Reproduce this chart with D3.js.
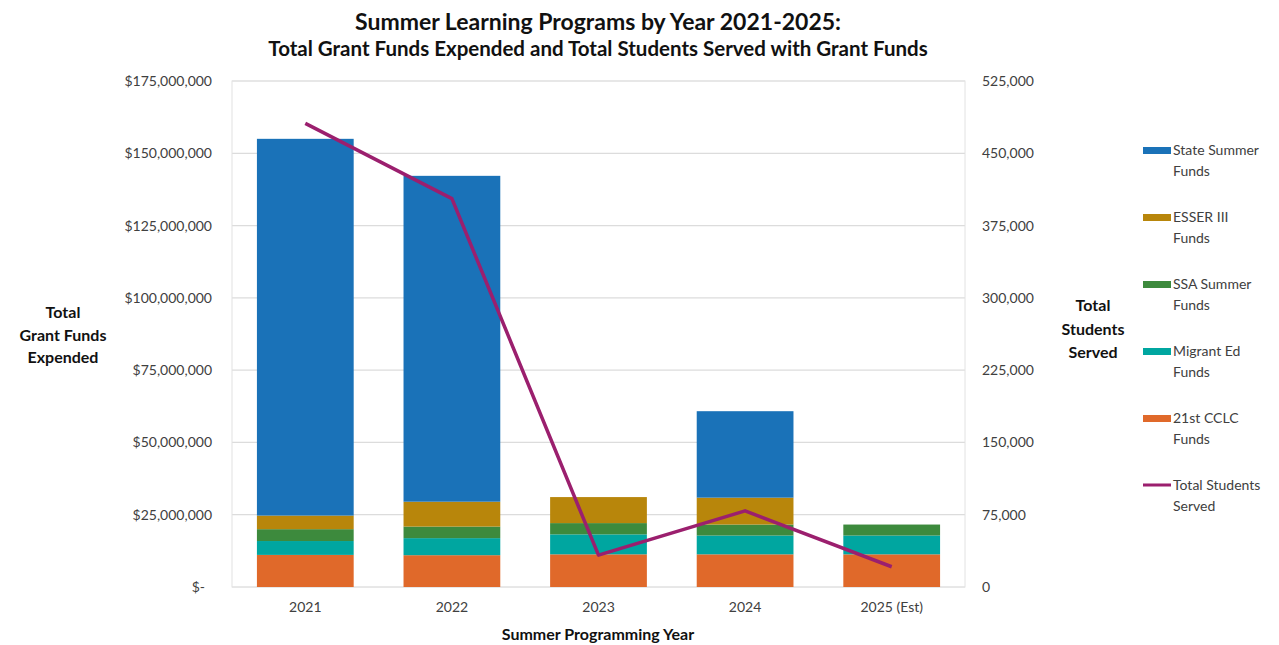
<!DOCTYPE html>
<html>
<head>
<meta charset="utf-8">
<script src="https://cdn.jsdelivr.net/npm/d3@7"></script>
<style>
  body { margin: 0; background: #fff; }
  text { font-family: Lato, "Open Sans", sans-serif; }
</style>
</head>
<body>
<div id="chart"></div>
<script>
// Chart data
var years = ["2021", "2022", "2023", "2024", "2025 (Est)"];
var seriesNames = ["21st CCLC Funds", "Migrant Ed Funds", "SSA Summer Funds", "ESSER III Funds", "State Summer Funds"];
var cclcFunds = [11100000, 11000000, 11300000, 11300000, 11300000];
var migrantFunds = [4800000, 5900000, 6900000, 6500000, 6500000];
var ssaFunds = [4100000, 4000000, 3900000, 3800000, 3800000];
var esserFunds = [4700000, 8600000, 9000000, 9300000, 0];
var stateFunds = [130300000, 112700000, 0, 29900000, 0];
var studentsServed = [481000, 403000, 33000, 79000, 21000];
var leftTicks = [0, 25000000, 50000000, 75000000, 100000000, 125000000, 150000000, 175000000];
var rightTicks = [0, 75000, 150000, 225000, 300000, 375000, 450000, 525000];

var colors = ["#e0692a", "#00a6a0", "#3d8a3d", "#b8860b", "#1a72b8"];
var lineColor = "#9b1f6e";

// svg size and margins
var svgWidth = 1279;
var svgHeight = 645;
var margin = { top: 81, right: 314, bottom: 58, left: 232 };
var chartWidth = svgWidth - margin.left - margin.right;
var chartHeight = svgHeight - margin.top - margin.bottom;

var svg = d3.select("#chart")
  .append("svg")
  .attr("width", svgWidth)
  .attr("height", svgHeight);

var chartGroup = svg.append("g")
  .attr("transform", `translate(${margin.left}, ${margin.top})`);

// build rows for the stack
var rows = years.map(function(y, i) {
  return {
    year: y,
    "21st CCLC Funds": cclcFunds[i],
    "Migrant Ed Funds": migrantFunds[i],
    "SSA Summer Funds": ssaFunds[i],
    "ESSER III Funds": esserFunds[i],
    "State Summer Funds": stateFunds[i]
  };
});
var stacked = d3.stack().keys(seriesNames)(rows);

// scales
var xBandScale = d3.scaleBand()
  .domain(years)
  .range([0, chartWidth])
  .paddingInner(0.34)
  .paddingOuter(0.17);

var yLeftScale = d3.scaleLinear()
  .domain([0, 175000000])
  .range([chartHeight, 0]);

var yRightScale = d3.scaleLinear()
  .domain([0, 525000])
  .range([chartHeight, 0]);

// gridlines
chartGroup.append("g")
  .selectAll("line")
  .data(leftTicks)
  .enter()
  .append("line")
  .attr("x1", 0)
  .attr("x2", chartWidth)
  .attr("y1", d => yLeftScale(d))
  .attr("y2", d => yLeftScale(d))
  .attr("stroke", "#dcdcdc")
  .attr("stroke-width", 1.2);

// plot border
chartGroup.append("rect")
  .attr("x", 0)
  .attr("y", 0)
  .attr("width", chartWidth)
  .attr("height", chartHeight)
  .attr("fill", "none")
  .attr("stroke", "#e2e2e2")
  .attr("stroke-width", 1);

// stacked bars
chartGroup.selectAll(".series")
  .data(stacked)
  .enter()
  .append("g")
  .attr("class", "series")
  .attr("fill", (d, i) => colors[i])
  .selectAll("rect")
  .data(d => d)
  .enter()
  .append("rect")
  .attr("x", d => xBandScale(d.data.year))
  .attr("width", xBandScale.bandwidth())
  .attr("y", d => yLeftScale(d[1]))
  .attr("height", d => yLeftScale(d[0]) - yLeftScale(d[1]));

// students served line
var line = d3.line()
  .x((d, i) => xBandScale(years[i]) + xBandScale.bandwidth() / 2)
  .y(d => yRightScale(d));

chartGroup.append("path")
  .datum(studentsServed)
  .attr("d", line)
  .attr("fill", "none")
  .attr("stroke", lineColor)
  .attr("stroke-width", 3.5)
  .attr("stroke-linejoin", "round");

// axes
var moneyFormat = function(d) {
  return d === 0 ? "$-" : "$" + d3.format(",")(d);
};
var leftAxis = d3.axisLeft(yLeftScale).tickValues(leftTicks).tickFormat(moneyFormat).tickSize(0).tickPadding(20);
var rightAxis = d3.axisRight(yRightScale).tickValues(rightTicks).tickFormat(d3.format(",")).tickSize(0).tickPadding(17);
var bottomAxis = d3.axisBottom(xBandScale).tickSize(0).tickPadding(15);

var leftG = chartGroup.append("g").call(leftAxis);
var rightG = chartGroup.append("g").attr("transform", `translate(${chartWidth}, 0)`).call(rightAxis);
var bottomG = chartGroup.append("g").attr("transform", `translate(0, ${chartHeight})`).call(bottomAxis);

[leftG, rightG, bottomG].forEach(function(g) {
  g.select(".domain").remove();
  g.selectAll("text")
    .attr("font-family", "Lato, sans-serif")
    .attr("font-size", "14px")
    .attr("fill", "#404040");
});
leftG.selectAll("text").filter(d => d === 0).attr("dx", "-7");

// titles
svg.append("text")
  .attr("x", 598)
  .attr("y", 30)
  .attr("text-anchor", "middle")
  .attr("font-size", "23px")
  .attr("font-weight", "bold")
  .attr("fill", "#111")
  .text("Summer Learning Programs by Year 2021-2025:");

svg.append("text")
  .attr("x", 598)
  .attr("y", 56)
  .attr("text-anchor", "middle")
  .attr("font-size", "20.5px")
  .attr("font-weight", "bold")
  .attr("fill", "#111")
  .text("Total Grant Funds Expended and Total Students Served with Grant Funds");

// y-axis titles
var leftTitle = ["Total", "Grant Funds", "Expended"];
svg.append("g").selectAll("text")
  .data(leftTitle)
  .enter()
  .append("text")
  .attr("x", 63)
  .attr("y", (d, i) => 318 + i * 22.5)
  .attr("text-anchor", "middle")
  .attr("font-size", "16px")
  .attr("font-weight", "bold")
  .attr("fill", "#111")
  .text(d => d);

var rightTitle = ["Total", "Students", "Served"];
svg.append("g").selectAll("text")
  .data(rightTitle)
  .enter()
  .append("text")
  .attr("x", 1093)
  .attr("y", (d, i) => 311 + i * 23.5)
  .attr("text-anchor", "middle")
  .attr("font-size", "16px")
  .attr("font-weight", "bold")
  .attr("fill", "#111")
  .text(d => d);

// x-axis title
svg.append("text")
  .attr("x", 598)
  .attr("y", 640)
  .attr("text-anchor", "middle")
  .attr("font-size", "16px")
  .attr("font-weight", "bold")
  .attr("fill", "#111")
  .text("Summer Programming Year");

// legend
var legendItems = [
  { lines: ["State Summer", "Funds"], color: colors[4], type: "bar" },
  { lines: ["ESSER III", "Funds"], color: colors[3], type: "bar" },
  { lines: ["SSA Summer", "Funds"], color: colors[2], type: "bar" },
  { lines: ["Migrant Ed", "Funds"], color: colors[1], type: "bar" },
  { lines: ["21st CCLC", "Funds"], color: colors[0], type: "bar" },
  { lines: ["Total Students", "Served"], color: lineColor, type: "line" }
];

var legend = svg.append("g")
  .attr("transform", "translate(1143, 150)");

var legendEntry = legend.selectAll("g")
  .data(legendItems)
  .enter()
  .append("g")
  .attr("transform", (d, i) => `translate(0, ${i * 67})`);

legendEntry.append("rect")
  .attr("x", 0)
  .attr("y", d => d.type === "bar" ? -3 : -1.5)
  .attr("width", 28)
  .attr("height", d => d.type === "bar" ? 7 : 3)
  .attr("fill", d => d.color);

legendEntry.selectAll("text")
  .data(d => d.lines)
  .enter()
  .append("text")
  .attr("x", 30)
  .attr("y", (d, i) => 5 + i * 21)
  .attr("font-size", "14px")
  .attr("fill", "#404040")
  .text(d => d);
</script>
</body>
</html>
